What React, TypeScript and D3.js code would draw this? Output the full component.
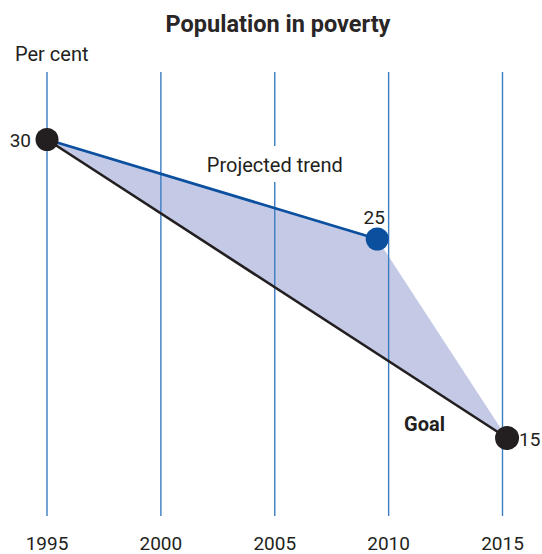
import React from "react";
import * as d3 from "d3";

// Gridline years and their tick labels
const yearTicks = [1995, 2000, 2005, 2010, 2015];
const tickLabels = ["1995", "2000", "2005", "2010", "2015"];

// Projected trend path (blue) and the goal path (black)
const trendYears = [1995, 2009.5, 2015.2];
const trendValues = [30, 25, 15];
const goalYears = [1995, 2015.2];
const goalValues = [30, 15];

const W = 542;
const H = 554;
const FONT = "Roboto, 'Noto Sans', sans-serif";

export default function App() {
  const x = d3.scaleLinear().domain([1995, 2015]).range([47, 502.5]);
  const y = d3.scaleLinear().domain([15, 30]).range([438, 139.5]);

  const trend = trendYears.map((yr, i) => [x(yr), y(trendValues[i])] as [number, number]);
  const goal = goalYears.map((yr, i) => [x(yr), y(goalValues[i])] as [number, number]);

  const line = d3.line();
  // Shaded gap between the projected trend and the goal path
  const band = [...trend, ...goal.slice().reverse()];

  const gridTop = 72;
  const gridBottom = 516;
  const gapTop = 146;
  const gapBottom = 182;

  const blue = "#0b4f9f";
  const grid = "#3d7cc3";
  const dark = "#231f20";

  const goalPt = goal[goal.length - 1];

  return (
    <svg
      width={W}
      height={H}
      style={{ position: "absolute", left: 0, top: 0, display: "block" }}
      fontFamily={FONT}
    >
      <rect width={W} height={H} fill="#fff" />
      <text x={278} y={31.5} textAnchor="middle" fontSize={23.5} fontWeight={700} fill="#2a2627">
        Population in poverty
      </text>
      <text x={15} y={61} fontSize={20} fill={dark}>
        Per cent
      </text>

      <path d={line(band) + "Z"} fill="#c4c9e6" stroke="none" />

      {yearTicks.map((yr) =>
        yr === 2005 ? (
          <g key={yr}>
            <line x1={x(yr)} x2={x(yr)} y1={gridTop} y2={gapTop} stroke={grid} strokeWidth={1.4} />
            <line x1={x(yr)} x2={x(yr)} y1={gapBottom} y2={gridBottom} stroke={grid} strokeWidth={1.4} />
          </g>
        ) : (
          <line key={yr} x1={x(yr)} x2={x(yr)} y1={gridTop} y2={gridBottom} stroke={grid} strokeWidth={1.4} />
        )
      )}
      {yearTicks.map((yr, i) => (
        <text key={"t" + yr} x={x(yr)} y={549.5} textAnchor="middle" fontSize={19} fill={dark}>
          {tickLabels[i]}
        </text>
      ))}

      <text x={x(2005)} y={172} textAnchor="middle" fontSize={20} fill={dark}>
        Projected trend
      </text>

      <path d={line(goal) ?? ""} fill="none" stroke={dark} strokeWidth={2.6} />
      <path d={line(trend.slice(0, 2)) ?? ""} fill="none" stroke={blue} strokeWidth={2.8} />

      <circle cx={trend[0][0]} cy={trend[0][1]} r={11.5} fill={dark} />
      <circle cx={trend[1][0]} cy={trend[1][1]} r={11.5} fill={blue} />
      <circle cx={goalPt[0]} cy={goalPt[1]} r={12} fill={dark} />

      <text x={trend[0][0] - 16} y={trend[0][1] + 7} textAnchor="end" fontSize={19} fill={dark}>
        {trendValues[0]}
      </text>
      <text x={trend[1][0] - 3} y={trend[1][1] - 15} textAnchor="middle" fontSize={19} fill={dark}>
        {trendValues[1]}
      </text>
      <text x={goalPt[0] + 12} y={goalPt[1] + 8} fontSize={19} fill={dark}>
        {goalValues[1]}
      </text>
      <text x={goalPt[0] - 103} y={goalPt[1] - 7} fontSize={20} fontWeight={700} fill={dark}>
        Goal
      </text>
    </svg>
  );
}
